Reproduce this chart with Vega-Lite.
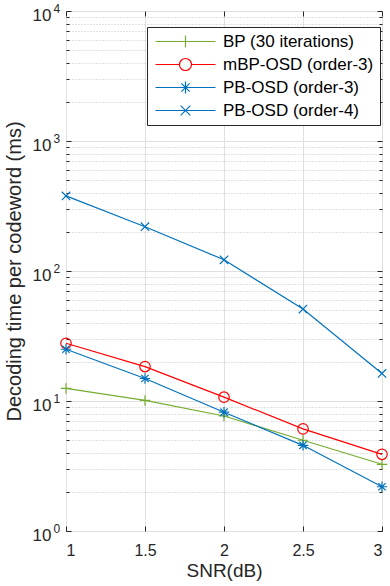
{
  "$schema": "https://vega.github.io/schema/vega-lite/v6.json",
  "width": 316,
  "height": 520,
  "autosize": "none",
  "padding": {"left": 66, "top": 11, "right": 8, "bottom": 55},
  "background": "white",
  "config": {
    "font": "Liberation Sans",
    "view": {"stroke": "#262626", "strokeWidth": 1},
    "axis": {
      "domain": false,
      "labelColor": "#262626",
      "titleColor": "#262626",
      "tickColor": "#262626",
      "labelFont": "Liberation Sans",
      "titleFont": "Liberation Sans",
      "labelFontSize": 16,
      "titleFontSize": 19,
      "titleFontWeight": "normal",
      "gridColor": "#e0e0e0",
      "gridWidth": 1
    }
  },
  "data": {
    "values": [
      {"snr": 1, "time": 12.5, "series": "BP (30 iterations)"},
      {"snr": 1.5, "time": 10.1, "series": "BP (30 iterations)"},
      {"snr": 2, "time": 7.67, "series": "BP (30 iterations)"},
      {"snr": 2.5, "time": 4.99, "series": "BP (30 iterations)"},
      {"snr": 3, "time": 3.26, "series": "BP (30 iterations)"},
      {"snr": 1, "time": 27.8, "series": "mBP-OSD (order-3)"},
      {"snr": 1.5, "time": 18.4, "series": "mBP-OSD (order-3)"},
      {"snr": 2, "time": 10.7, "series": "mBP-OSD (order-3)"},
      {"snr": 2.5, "time": 6.1, "series": "mBP-OSD (order-3)"},
      {"snr": 3, "time": 3.89, "series": "mBP-OSD (order-3)"},
      {"snr": 1, "time": 25, "series": "PB-OSD (order-3)"},
      {"snr": 1.5, "time": 14.9, "series": "PB-OSD (order-3)"},
      {"snr": 2, "time": 8.2, "series": "PB-OSD (order-3)"},
      {"snr": 2.5, "time": 4.56, "series": "PB-OSD (order-3)"},
      {"snr": 3, "time": 2.19, "series": "PB-OSD (order-3)"},
      {"snr": 1, "time": 378, "series": "PB-OSD (order-4)"},
      {"snr": 1.5, "time": 219, "series": "PB-OSD (order-4)"},
      {"snr": 2, "time": 122, "series": "PB-OSD (order-4)"},
      {"snr": 2.5, "time": 51, "series": "PB-OSD (order-4)"},
      {"snr": 3, "time": 16.3, "series": "PB-OSD (order-4)"}
    ]
  },
  "layer": [
    {
      "mark": {"type": "line", "opacity": 0},
      "encoding": {
        "x": {"field": "snr", "type": "quantitative", "scale": {"domain": [1, 3], "nice": false, "zero": false}, "axis": null},
        "y": {"field": "time", "type": "quantitative", "scale": {"type": "log", "domain": [1, 10000], "nice": false},
          "axis": {"orient": "left", "values": [2,3,4,5,6,7,8,9,20,30,40,50,60,70,80,90,200,300,400,500,600,700,800,900,2000,3000,4000,5000,6000,7000,8000,9000],
            "grid": true, "gridDash": [1, 2], "gridColor": "#c4c4c4", "labels": false, "ticks": true, "tickSize": -3, "title": null}},
        "detail": {"field": "series"}
      }
    },
    {
      "mark": {"type": "line", "opacity": 0},
      "encoding": {
        "x": {"field": "snr", "type": "quantitative", "scale": {"domain": [1, 3], "nice": false, "zero": false},
          "axis": {"orient": "top", "values": [1, 1.5, 2, 2.5, 3], "grid": false, "labels": false, "tickSize": -5, "title": null}},
        "y": {"field": "time", "type": "quantitative", "scale": {"type": "log", "domain": [1, 10000], "nice": false},
          "axis": {"orient": "right", "values": [2,3,4,5,6,7,8,9,20,30,40,50,60,70,80,90,200,300,400,500,600,700,800,900,2000,3000,4000,5000,6000,7000,8000,9000],
            "grid": false, "labels": false, "tickSize": -3, "title": null}},
        "detail": {"field": "series"}
      }
    },
    {
      "mark": {"type": "line", "opacity": 0},
      "encoding": {
        "x": {"field": "snr", "type": "quantitative", "scale": {"domain": [1, 3], "nice": false, "zero": false}, "axis": null},
        "y": {"field": "time", "type": "quantitative", "scale": {"type": "log", "domain": [1, 10000], "nice": false},
          "axis": {"orient": "right", "values": [1, 10, 100, 1000, 10000], "grid": false, "labels": false, "tickSize": -5, "title": null}},
        "detail": {"field": "series"}
      }
    },
    {
      "mark": {"type": "line", "opacity": 0},
      "encoding": {
        "x": {"field": "snr", "type": "quantitative", "scale": {"domain": [1, 3], "nice": false, "zero": false}, "axis": null},
        "y": {"field": "time", "type": "quantitative", "scale": {"type": "log", "domain": [1, 10000], "nice": false},
          "axis": {"orient": "left", "values": [1, 10, 100, 1000, 10000], "grid": false, "ticks": false, "tickSize": 0, "labelPadding": 13, "labelAlign": "left", "labelOffset": -3, "labelFontSize": 12,
            "labelExpr": "datum.value == 1 ? '0' : datum.value == 10 ? '1' : datum.value == 100 ? '2' : datum.value == 1000 ? '3' : '4'", "title": null}},
        "detail": {"field": "series"}
      }
    },
    {
      "mark": {"type": "line", "strokeWidth": 1.2},
      "encoding": {
        "x": {"field": "snr", "type": "quantitative", "scale": {"domain": [1, 3], "nice": false, "zero": false},
          "axis": {"orient": "bottom", "values": [1, 1.5, 2, 2.5, 3], "format": "~g", "grid": true, "tickSize": -5, "labelPadding": 16, "title": "SNR(dB)", "titlePadding": 3}},
        "y": {"field": "time", "type": "quantitative", "scale": {"type": "log", "domain": [1, 10000], "nice": false},
          "axis": {"orient": "left", "values": [1, 10, 100, 1000, 10000], "grid": true, "tickSize": -5, "labelPadding": 20, "labelOffset": 4, "labelFontSize": 17,
            "labelExpr": "'10'",
            "title": "Decoding time per codeword (ms)", "titleFontSize": 20, "titlePadding": 8}},
        "color": {"field": "series", "type": "nominal",
          "scale": {"domain": ["BP (30 iterations)", "mBP-OSD (order-3)", "PB-OSD (order-3)", "PB-OSD (order-4)"], "range": ["#77AC30", "#FF0000", "#0072BD", "#0072BD"]},
          "legend": null}
      }
    },
    {
      "mark": {"type": "point", "filled": false, "strokeWidth": 1.2, "size": 110, "opacity": 1},
      "encoding": {
        "x": {"field": "snr", "type": "quantitative", "scale": {"domain": [1, 3], "nice": false, "zero": false}, "axis": null},
        "y": {"field": "time", "type": "quantitative", "scale": {"type": "log", "domain": [1, 10000], "nice": false}, "axis": null},
        "color": {"field": "series", "type": "nominal",
          "scale": {"domain": ["BP (30 iterations)", "mBP-OSD (order-3)", "PB-OSD (order-3)", "PB-OSD (order-4)"], "range": ["#77AC30", "#FF0000", "#0072BD", "#0072BD"]},
          "legend": null},
        "shape": {"field": "series", "type": "nominal",
          "scale": {"domain": ["BP (30 iterations)", "mBP-OSD (order-3)", "PB-OSD (order-3)", "PB-OSD (order-4)"],
            "range": ["M-1,0H1M0,-1V1", "M-1,0A1,1 0 1,1 1,0A1,1 0 1,1 -1,0Z", "M-1,0H1M0,-1V1M-0.7,-0.7L0.7,0.7M-0.7,0.7L0.7,-0.7", "M-0.8,-0.8L0.8,0.8M-0.8,0.8L0.8,-0.8"]},
          "legend": null}
      }
    },
    {
      "transform": [{"filter": "false"}],
      "mark": {"type": "point", "filled": false, "strokeWidth": 1.2, "size": 144, "opacity": 1},
      "encoding": {
        "x": {"field": "snr", "type": "quantitative", "scale": {"domain": [1, 3], "nice": false, "zero": false}, "axis": null},
        "y": {"field": "time", "type": "quantitative", "scale": {"type": "log", "domain": [1, 10000], "nice": false}, "axis": null},
        "color": {"field": "series", "type": "nominal",
          "scale": {"domain": ["BP (30 iterations)", "mBP-OSD (order-3)", "PB-OSD (order-3)", "PB-OSD (order-4)"], "range": ["#77AC30", "#FF0000", "#0072BD", "#0072BD"]},
          "legend": {"orient": "none", "legendX": 81, "legendY": 16, "title": null, "strokeColor": "#262626", "fillColor": "white", "padding": 6,
            "labelFontSize": 17, "labelFont": "Liberation Sans", "labelColor": "#000000", "labelOffset": 53, "symbolSize": 144, "symbolStrokeWidth": 1.2, "rowPadding": 5}},
        "shape": {"field": "series", "type": "nominal",
          "scale": {"domain": ["BP (30 iterations)", "mBP-OSD (order-3)", "PB-OSD (order-3)", "PB-OSD (order-4)"],
            "range": ["M-1,0H9M4,-1V1",
              "M-1,0H3M5,0H9M3,0A1,1 0 1,1 5,0A1,1 0 1,1 3,0Z",
              "M-1,0H9M4,-1V1M3.3,-0.7L4.7,0.7M3.3,0.7L4.7,-0.7",
              "M-1,0H9M3.2,-0.8L4.8,0.8M3.2,0.8L4.8,-0.8"]},
          "legend": {"orient": "none", "legendX": 81, "legendY": 16, "title": null, "strokeColor": "#262626", "fillColor": "white", "padding": 6,
            "labelFontSize": 17, "labelFont": "Liberation Sans", "labelColor": "#000000", "labelOffset": 53, "symbolSize": 144, "symbolStrokeWidth": 1.2, "rowPadding": 5}}
      }
    }
  ],
  "resolve": {
    "scale": {"color": "independent", "shape": "independent"},
    "axis": {"x": "independent", "y": "independent"}
  }
}
